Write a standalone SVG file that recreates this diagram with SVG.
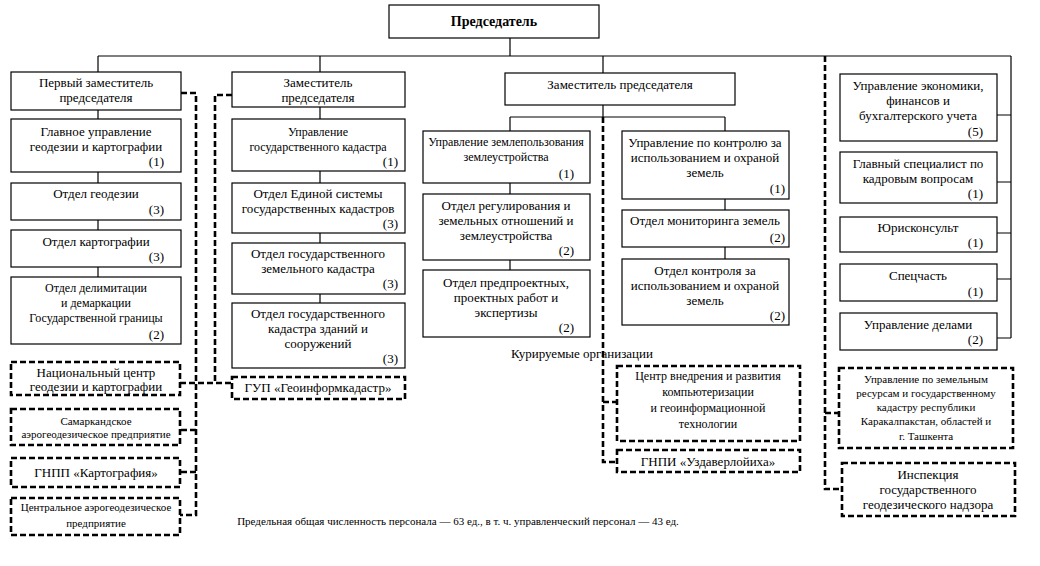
<svg xmlns="http://www.w3.org/2000/svg" width="1040" height="566" viewBox="0 0 1040 566" font-family="'Liberation Serif', 'DejaVu Serif', serif">
<style>
text{font-family:'Liberation Serif','DejaVu Serif',serif;fill:#000;font-size:13px}
.c{text-anchor:middle}
.r{text-anchor:end}
.s{font-size:12px}
.xs{font-size:11px}
.b{font-weight:bold;font-size:14px}
.box{fill:#fff;stroke:#000;stroke-width:1.2}
.dbox{fill:#fff;stroke:#000;stroke-width:2.6;stroke-dasharray:6 3}
.ln{fill:none;stroke:#000;stroke-width:1.2}
.dl{fill:none;stroke:#000;stroke-width:2.6;stroke-dasharray:6 3}
</style>
<rect width="1040" height="566" fill="#fff"/>
<g id="connectors">
<path class="ln" d="M510 38V56M98 56H1011M98 56V72M320 56V72M603 56V73M1011 56V338"/>
<path class="ln" d="M98 110V119M98 172V183M98 220V230M98 267V277"/>
<path class="ln" d="M320 107V119M320 171V183M320 233V243M320 294V303"/>
<path class="ln" d="M603 105V117M510 117H725M510 117V131M510 183V194M510 260V270M725 117V131M725 199V210M725 247V259"/>
<path class="ln" d="M997 115H1011M997 182H1011M997 233H1011M997 279H1011M997 338H1011"/>
<path class="dl" d="M181 93H196V515H180M196 430H180M196 472H180M180 383H232M232 95H215V383"/>
<path class="dl" d="M603 117V462H617M603 402H617"/>
<path class="dl" d="M825 56V489H842M825 413H839"/>
</g>
<g id="n-chair"><rect class="box" x="389" y="5" width="210" height="33"/><text class="c b" x="494" y="26">Председатель</text></g>
<g id="n-first-deputy"><rect class="box" x="11" y="72" width="170" height="38"/><text class="c" x="96" y="87">Первый заместитель</text><text class="c" x="96" y="102">председателя</text></g>
<g id="n-geo-main"><rect class="box" x="11" y="119" width="170" height="53"/><text class="c" x="96" y="136">Главное управление</text><text class="c" x="96" y="151">геодезии и картографии</text><text class="r" x="164" y="166">(1)</text></g>
<g id="n-geodesy"><rect class="box" x="11" y="183" width="170" height="37"/><text class="c" x="96" y="198">Отдел геодезии</text><text class="r" x="164" y="214">(3)</text></g>
<g id="n-carto"><rect class="box" x="11" y="230" width="170" height="37"/><text class="c" x="96" y="246">Отдел картографии</text><text class="r" x="164" y="261">(3)</text></g>
<g id="n-delim"><rect class="box" x="11" y="277" width="170" height="67"/><text class="c s" x="96" y="292">Отдел делимитации</text><text class="c s" x="96" y="307">и демаркации</text><text class="c s" x="96" y="322">Государственной границы</text><text class="r" x="164" y="339">(2)</text></g>
<g id="n-natcenter"><rect class="dbox" x="11" y="362" width="169" height="33"/><text class="c" x="96" y="377">Национальный центр</text><text class="c" x="96" y="391">геодезии и картографии</text></g>
<g id="n-samarkand"><rect class="dbox" x="11" y="409" width="169" height="36"/><text class="c xs" x="96" y="425">Самаркандское</text><text class="c xs" x="96" y="438">аэрогеодезическое предприятие</text></g>
<g id="n-gnpp"><rect class="dbox" x="11" y="458" width="169" height="29"/><text class="c" x="96" y="477">ГНПП «Картография»</text></g>
<g id="n-central"><rect class="dbox" x="11" y="498" width="169" height="37"/><text class="c xs" x="96" y="511">Центральное аэрогеодезическое</text><text class="c xs" x="96" y="527">предприятие</text></g>
<g id="n-deputy2"><rect class="box" x="232" y="72" width="173" height="35"/><text class="c" x="318" y="87">Заместитель</text><text class="c" x="318" y="102">председателя</text></g>
<g id="n-cadastre"><rect class="box" x="232" y="119" width="173" height="52"/><text class="c s" x="318" y="136">Управление</text><text class="c s" x="318" y="151">государственного кадастра</text><text class="r" x="398" y="166">(1)</text></g>
<g id="n-unified"><rect class="box" x="232" y="183" width="173" height="50"/><text class="c" x="318" y="198">Отдел Единой системы</text><text class="c" x="318" y="213">государственных кадастров</text><text class="r" x="398" y="228">(3)</text></g>
<g id="n-landcad"><rect class="box" x="232" y="243" width="173" height="51"/><text class="c" x="318" y="258">Отдел государственного</text><text class="c" x="318" y="273">земельного кадастра</text><text class="r" x="398" y="288">(3)</text></g>
<g id="n-buildcad"><rect class="box" x="232" y="303" width="173" height="65"/><text class="c" x="318" y="318">Отдел государственного</text><text class="c" x="318" y="333">кадастра зданий и</text><text class="c" x="318" y="348">сооружений</text><text class="r" x="398" y="363">(3)</text></g>
<g id="n-gup"><rect class="dbox" x="232" y="377" width="173" height="22"/><text class="c" x="318" y="392">ГУП «Геоинформкадастр»</text></g>
<g id="n-deputy3"><rect class="box" x="505" y="73" width="230" height="32"/><text class="c" x="620" y="89">Заместитель председателя</text></g>
<g id="n-landuse"><rect class="box" x="423" y="131" width="167" height="52"/><text class="c s" x="506" y="146">Управление землепользования</text><text class="c s" x="506" y="161">землеустройства</text><text class="r" x="574" y="178">(1)</text></g>
<g id="n-regul"><rect class="box" x="423" y="194" width="167" height="66"/><text class="c" x="506" y="210">Отдел регулирования и</text><text class="c" x="506" y="225">земельных отношений и</text><text class="c" x="506" y="240">землеустройства</text><text class="r" x="574" y="255">(2)</text></g>
<g id="n-preproj"><rect class="box" x="423" y="270" width="167" height="67"/><text class="c" x="506" y="287">Отдел предпроектных,</text><text class="c" x="506" y="302">проектных работ и</text><text class="c" x="506" y="317">экспертизы</text><text class="r" x="574" y="332">(2)</text></g>
<g id="n-control"><rect class="box" x="622" y="131" width="167" height="68"/><text class="c" x="705" y="147">Управление по контролю за</text><text class="c" x="705" y="162">использованием и охраной</text><text class="c" x="705" y="177">земель</text><text class="r" x="785" y="193">(1)</text></g>
<g id="n-monitor"><rect class="box" x="622" y="210" width="167" height="37"/><text class="c" x="705" y="225">Отдел мониторинга земель</text><text class="r" x="785" y="242">(2)</text></g>
<g id="n-control2"><rect class="box" x="622" y="259" width="167" height="66"/><text class="c" x="705" y="275">Отдел контроля за</text><text class="c" x="705" y="290">использованием и охраной</text><text class="c" x="705" y="305">земель</text><text class="r" x="785" y="320">(2)</text></g>
<g id="n-supervised-label"><text class="c" x="582" y="358">Курируемые организации</text></g>
<g id="n-gis"><rect class="dbox" x="617" y="366" width="183" height="75"/><text class="c s" x="708" y="380">Центр внедрения и развития</text><text class="c s" x="708" y="396">компьютеризации</text><text class="c s" x="708" y="412">и геоинформационной</text><text class="c s" x="708" y="428">технологии</text></g>
<g id="n-gnpi"><rect class="dbox" x="617" y="450" width="183" height="22"/><text class="c" x="708" y="466">ГНПИ «Уздаверлойиха»</text></g>
<g id="n-econ"><rect class="box" x="840" y="74" width="157" height="67"/><text class="c" x="918" y="90">Управление экономики,</text><text class="c" x="918" y="105">финансов и</text><text class="c" x="918" y="120">бухгалтерского учета</text><text class="r" x="983" y="136">(5)</text></g>
<g id="n-hr"><rect class="box" x="840" y="152" width="157" height="51"/><text class="c" x="918" y="168">Главный специалист по</text><text class="c" x="918" y="183">кадровым вопросам</text><text class="r" x="983" y="198">(1)</text></g>
<g id="n-legal"><rect class="box" x="840" y="217" width="157" height="35"/><text class="c" x="918" y="232">Юрисконсульт</text><text class="r" x="983" y="247">(1)</text></g>
<g id="n-special"><rect class="box" x="840" y="264" width="157" height="37"/><text class="c" x="918" y="280">Спецчасть</text><text class="r" x="983" y="296">(1)</text></g>
<g id="n-affairs"><rect class="box" x="840" y="313" width="157" height="37"/><text class="c" x="918" y="329">Управление делами</text><text class="r" x="983" y="344">(2)</text></g>
<g id="n-regional"><rect class="dbox" x="839" y="368" width="174" height="80"/><text class="c xs" x="926" y="383">Управление по земельным</text><text class="c xs" x="926" y="397">ресурсам и государственному</text><text class="c xs" x="926" y="411">кадастру республики</text><text class="c xs" x="926" y="425">Каракалпакстан, областей и</text><text class="c xs" x="926" y="440">г. Ташкента</text></g>
<g id="n-inspect"><rect class="dbox" x="842" y="463" width="173" height="53"/><text class="c" x="928" y="479">Инспекция</text><text class="c" x="928" y="494">государственного</text><text class="c" x="928" y="509">геодезического надзора</text></g>
<g id="n-footer"><text class="c xs" x="458" y="525">Предельная общая численность персонала — 63 ед., в т. ч. управленческий персонал — 43 ед.</text></g>
</svg>
